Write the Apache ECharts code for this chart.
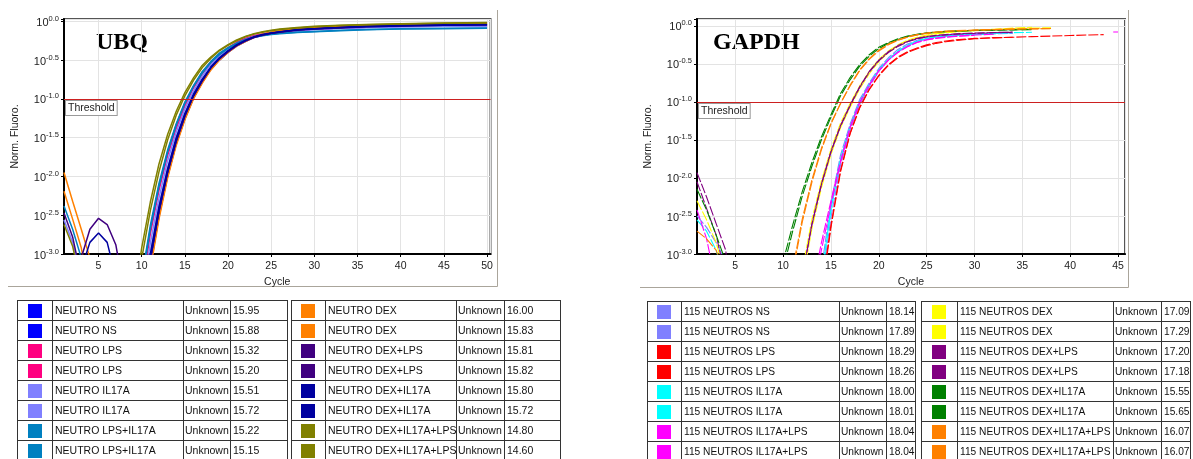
<!DOCTYPE html>
<html><head><meta charset="utf-8">
<script src="https://cdn.jsdelivr.net/npm/echarts@6/dist/echarts.min.js"></script>
<style>html,body{margin:0;padding:0;background:#fff}#c{width:1193px;height:459px}</style>
</head><body><div id="c"></div>
<script>
// ---------- UBQ data (log10 of normalized fluorescence) ----------
const ubqCycles = [1,2,3,4,5,6,7,8,9,10,11,12,13,14,15,16,17,18,19,20,21,22,23,24,25,26,28,30,33,36,40,45,50];
const ubqLabels = ['NEUTRO NS','NEUTRO NS','NEUTRO LPS','NEUTRO LPS','NEUTRO IL17A','NEUTRO IL17A','NEUTRO LPS+IL17A','NEUTRO LPS+IL17A',
                   'NEUTRO DEX','NEUTRO DEX','NEUTRO DEX+LPS','NEUTRO DEX+LPS','NEUTRO DEX+IL17A','NEUTRO DEX+IL17A','NEUTRO DEX+IL17A+LPS','NEUTRO DEX+IL17A+LPS'];
const ubqCt = ['15.95','15.88','15.32','15.20','15.51','15.72','15.22','15.15','16.00','15.83','15.81','15.82','15.80','15.72','14.80','14.60'];
const ubqColors = ['#0000FF','#0000FF','#FF0080','#FF0080','#8080FF','#8080FF','#0080C0','#0080C0','#FF8000','#FF8000','#400080','#400080','#0000A0','#0000A0','#808000','#808000'];
const ubqNS1 = [-4,-4,-4,-4,-4,-4,-4,-4,-4,-3.96,-3.17,-2.52,-2.00,-1.58,-1.26,-0.99,-0.79,-0.62,-0.50,-0.40,-0.32,-0.26,-0.21,-0.18,-0.16,-0.14,-0.12,-0.10,-0.085,-0.075,-0.065,-0.055,-0.05];
const ubqNS2 = [-4,-4,-4,-4,-4,-4,-4,-4,-4,-3.90,-3.12,-2.49,-1.97,-1.56,-1.24,-0.98,-0.78,-0.61,-0.49,-0.39,-0.31,-0.255,-0.21,-0.18,-0.16,-0.14,-0.115,-0.10,-0.085,-0.07,-0.06,-0.05,-0.045];
const ubqLPS1 = [-4,-4,-4,-4,-4,-4,-4,-4,-4,-3.46,-2.74,-2.18,-1.73,-1.38,-1.09,-0.86,-0.68,-0.54,-0.43,-0.35,-0.28,-0.225,-0.19,-0.165,-0.145,-0.135,-0.115,-0.10,-0.085,-0.075,-0.065,-0.06,-0.055];
const ubqLPS2 = [-4,-4,-4,-4,-4,-4,-4,-4,-4,-3.36,-2.67,-2.12,-1.68,-1.33,-1.05,-0.84,-0.66,-0.52,-0.42,-0.34,-0.27,-0.22,-0.186,-0.164,-0.144,-0.132,-0.11,-0.095,-0.08,-0.07,-0.06,-0.055,-0.05];
const ubqIL1 = [-2.56,-2.85,-3.3,-4,-4,-4,-4,-4,-4,-3.61,-2.86,-2.28,-1.80,-1.43,-1.13,-0.90,-0.71,-0.56,-0.45,-0.36,-0.29,-0.235,-0.195,-0.17,-0.15,-0.135,-0.12,-0.105,-0.09,-0.08,-0.07,-0.065,-0.06];
const ubqIL2 = [-4,-4,-4,-4,-4,-4,-4,-4,-4,-3.78,-3.0,-2.39,-1.90,-1.50,-1.19,-0.94,-0.75,-0.59,-0.47,-0.38,-0.30,-0.245,-0.20,-0.175,-0.155,-0.137,-0.12,-0.105,-0.09,-0.08,-0.07,-0.065,-0.06];
const ubqLPSIL1 = [-2.38,-2.68,-3.05,-4,-4,-4,-4,-4,-4,-3.38,-2.68,-2.13,-1.69,-1.34,-1.06,-0.84,-0.67,-0.53,-0.43,-0.35,-0.29,-0.24,-0.205,-0.185,-0.17,-0.16,-0.145,-0.135,-0.12,-0.11,-0.10,-0.095,-0.09];
const ubqLPSIL2 = [-4,-4,-4,-4,-4,-4,-4,-4,-4,-3.31,-2.63,-2.09,-1.66,-1.32,-1.04,-0.83,-0.65,-0.52,-0.41,-0.34,-0.28,-0.235,-0.20,-0.18,-0.165,-0.155,-0.14,-0.13,-0.115,-0.105,-0.095,-0.09,-0.085];
const ubqDEX1 = [-1.95,-2.32,-2.68,-3.05,-4,-4,-4,-4,-4,-4,-3.2,-2.55,-2.02,-1.60,-1.27,-1.00,-0.80,-0.63,-0.50,-0.40,-0.32,-0.26,-0.21,-0.17,-0.145,-0.125,-0.10,-0.08,-0.06,-0.05,-0.04,-0.03,-0.025];
const ubqDEX2 = [-2.19,-2.55,-2.92,-3.5,-4,-4,-4,-4,-4,-3.86,-3.08,-2.45,-1.95,-1.54,-1.23,-0.97,-0.77,-0.61,-0.48,-0.39,-0.31,-0.25,-0.20,-0.165,-0.14,-0.12,-0.095,-0.08,-0.065,-0.05,-0.04,-0.035,-0.03];
const ubqDEXLPS1 = [-4,-4,-3.05,-2.68,-2.54,-2.62,-2.88,-3.5,-4,-3.85,-3.07,-2.44,-1.94,-1.54,-1.22,-0.96,-0.77,-0.60,-0.48,-0.39,-0.31,-0.25,-0.205,-0.175,-0.155,-0.138,-0.115,-0.10,-0.085,-0.07,-0.06,-0.05,-0.045];
const ubqDEXLPS2 = [-2.47,-2.78,-3.3,-4,-4,-4,-4,-4,-4,-3.86,-3.07,-2.45,-1.95,-1.55,-1.22,-0.96,-0.77,-0.60,-0.48,-0.39,-0.31,-0.25,-0.205,-0.175,-0.155,-0.14,-0.11,-0.095,-0.08,-0.065,-0.055,-0.045,-0.04];
const ubqDEXIL1 = [-4,-4,-3.2,-2.85,-2.73,-2.85,-3.3,-4,-4,-3.84,-3.06,-2.44,-1.94,-1.53,-1.21,-0.96,-0.76,-0.60,-0.48,-0.38,-0.31,-0.25,-0.204,-0.174,-0.154,-0.136,-0.11,-0.095,-0.08,-0.07,-0.06,-0.05,-0.045];
const ubqDEXIL2 = [-4,-4,-4,-4,-4,-4,-4,-4,-4,-3.78,-3.0,-2.39,-1.90,-1.50,-1.19,-0.94,-0.75,-0.59,-0.47,-0.38,-0.30,-0.245,-0.20,-0.17,-0.15,-0.133,-0.11,-0.095,-0.08,-0.065,-0.055,-0.045,-0.04];
const ubqDEXILLPS1 = [-2.62,-2.9,-3.4,-4,-4,-4,-4,-4,-3.84,-3.06,-2.44,-1.94,-1.53,-1.21,-0.96,-0.76,-0.60,-0.48,-0.38,-0.31,-0.25,-0.20,-0.165,-0.14,-0.12,-0.105,-0.085,-0.07,-0.055,-0.045,-0.035,-0.025,-0.02];
const ubqDEXILLPS2 = [-4,-4,-4,-4,-4,-4,-4,-4,-3.68,-2.92,-2.33,-1.84,-1.46,-1.16,-0.92,-0.73,-0.57,-0.46,-0.37,-0.30,-0.24,-0.195,-0.16,-0.135,-0.115,-0.10,-0.08,-0.065,-0.05,-0.04,-0.03,-0.02,-0.015];
const ubqCurves = [ubqNS1,ubqNS2,ubqLPS1,ubqLPS2,ubqIL1,ubqIL2,ubqLPSIL1,ubqLPSIL2,ubqDEX1,ubqDEX2,ubqDEXLPS1,ubqDEXLPS2,ubqDEXIL1,ubqDEXIL2,ubqDEXILLPS1,ubqDEXILLPS2];

// ---------- GAPDH data ----------
const gapdhCycles = [1,2,3,4,5,6,7,8,9,10,11,12,13,14,15,16,17,18,19,20,21,22,23,24,25,26,27,28,30,32,34,36,38,40,42,43.5,44.5,45];
const gapdhLabels = ['115 NEUTROS NS','115 NEUTROS NS','115 NEUTROS LPS','115 NEUTROS LPS','115 NEUTROS IL17A','115 NEUTROS IL17A','115 NEUTROS IL17A+LPS','115 NEUTROS IL17A+LPS',
                     '115 NEUTROS DEX','115 NEUTROS DEX','115 NEUTROS DEX+LPS','115 NEUTROS DEX+LPS','115 NEUTROS DEX+IL17A','115 NEUTROS DEX+IL17A','115 NEUTROS DEX+IL17A+LPS','115 NEUTROS DEX+IL17A+LPS'];
const gapdhCt = ['18.14','17.89','18.29','18.26','18.00','18.01','18.04','18.04','17.09','17.29','17.20','17.18','15.55','15.65','16.07','16.07'];
const gapdhColors = ['#8080FF','#8080FF','#FF0000','#FF0000','#00FFFF','#00FFFF','#FF00FF','#FF00FF','#FFFF00','#FFFF00','#800080','#800080','#008000','#008000','#FF8000','#FF8000'];
const gNS1 = [-2.5,-2.65,-2.85,-3.1,-4,-4,-4,-4,-4,-4,-4,-4,-4,-3.42,-2.52,-1.83,-1.37,-1.04,-0.80,-0.60,-0.45,-0.34,-0.26,-0.205,-0.17,-0.15,-0.135,-0.125,-0.115,-0.105,-0.10,null,null,null,null,null,null,null];
const gNS2 = [-4,-4,-4,-4,-4,-4,-4,-4,-4,-4,-4,-4,-4,-3.2,-2.33,-1.70,-1.29,-0.97,-0.75,-0.56,-0.42,-0.31,-0.24,-0.19,-0.16,-0.14,-0.125,-0.115,-0.105,-0.10,-0.095,null,null,null,null,null,null,null];
const gLPS1 = [-4,-4,-4,-4,-4,-4,-4,-4,-4,-4,-4,-4,-4,-3.55,-2.65,-1.92,-1.42,-1.08,-0.84,-0.66,-0.52,-0.42,-0.35,-0.30,-0.26,-0.23,-0.21,-0.195,-0.17,-0.158,-0.15,-0.142,-0.135,-0.127,-0.12,-0.115,null,null];
const gLPS2 = [-4,-4,-4,-4,-4,-4,-4,-4,-4,-4,-4,-4,-4,-3.5,-2.62,-1.9,-1.41,-1.07,-0.83,-0.65,-0.51,-0.41,-0.34,-0.29,-0.25,-0.22,-0.20,-0.185,-0.165,-0.155,-0.15,null,null,null,null,null,null,null];
const gIL1 = [-2.55,-2.7,-2.95,-3.4,-4,-4,-4,-4,-4,-4,-4,-4,-4,-3.3,-2.4,-1.75,-1.32,-1.0,-0.77,-0.58,-0.44,-0.33,-0.255,-0.20,-0.165,-0.145,-0.13,-0.12,-0.11,-0.10,-0.09,-0.085,null,null,null,null,null,null];
const gIL2 = [-4,-4,-4,-4,-4,-4,-4,-4,-4,-4,-4,-4,-4,-3.32,-2.42,-1.76,-1.33,-1.0,-0.77,-0.58,-0.44,-0.335,-0.26,-0.205,-0.17,-0.15,-0.135,-0.125,-0.113,-0.105,null,null,null,null,null,null,null,null];
const gILLPS1 = [-2.42,-2.8,-3.4,-4,-4,-4,-4,-4,-4,-4,-4,-4,-3.5,-2.85,-2.3,-1.78,-1.33,-1.01,-0.78,-0.59,-0.45,-0.345,-0.27,-0.215,-0.18,-0.16,-0.145,-0.135,-0.12,-0.11,null,null,null,null,null,null,null,null];
const gILLPS2 = [-4,-4,-4,-4,-4,-4,-4,-4,-4,-4,-4,-4,-3.6,-2.95,-2.35,-1.8,-1.34,-1.01,-0.78,-0.59,-0.45,-0.35,-0.275,-0.22,-0.185,-0.165,-0.15,-0.14,-0.125,null,null,null,null,null,null,null,-0.08,-0.08];
const gDEX1 = [-2.3,-2.55,-2.85,-3.3,-4,-4,-4,-4,-4,-4,-4,-3.22,-2.55,-2.04,-1.62,-1.28,-1.02,-0.79,-0.60,-0.44,-0.33,-0.25,-0.19,-0.15,-0.12,-0.10,-0.085,-0.075,-0.06,-0.045,-0.03,-0.018,null,null,null,null,null,null];
const gDEX2 = [-4,-4,-4,-4,-4,-4,-4,-4,-4,-4,-4,-3.38,-2.67,-2.13,-1.69,-1.34,-1.07,-0.83,-0.63,-0.47,-0.35,-0.26,-0.20,-0.16,-0.13,-0.105,-0.09,-0.08,-0.065,-0.05,-0.04,-0.03,-0.025,null,null,null,null,null];
const gDEXLPS1 = [-1.93,-2.25,-2.6,-2.95,-4,-4,-4,-4,-4,-4,-4,-3.31,-2.62,-2.09,-1.66,-1.32,-1.05,-0.81,-0.61,-0.46,-0.35,-0.27,-0.21,-0.17,-0.145,-0.13,-0.12,-0.11,-0.10,-0.09,-0.085,null,null,null,null,null,null,null];
const gDEXLPS2 = [-2.05,-2.4,-2.75,-3.3,-4,-4,-4,-4,-4,-4,-4,-3.3,-2.61,-2.08,-1.65,-1.31,-1.04,-0.80,-0.60,-0.45,-0.34,-0.26,-0.205,-0.165,-0.14,-0.125,-0.115,-0.105,-0.095,-0.088,-0.082,null,null,null,null,null,null,null];
const gDEXIL1 = [-2.15,-2.42,-2.75,-3.1,-4,-4,-4,-4,-4,-3.1,-2.62,-2.18,-1.80,-1.46,-1.17,-0.89,-0.68,-0.51,-0.38,-0.28,-0.22,-0.17,-0.135,-0.11,-0.093,-0.08,-0.073,-0.067,-0.06,-0.055,-0.05,-0.048,null,null,null,null,null,null];
const gDEXIL2 = [-4,-4,-4,-4,-4,-4,-4,-4,-4,-3.2,-2.7,-2.24,-1.85,-1.5,-1.2,-0.92,-0.71,-0.53,-0.40,-0.30,-0.23,-0.18,-0.14,-0.115,-0.097,-0.085,-0.076,-0.07,-0.062,-0.057,-0.053,-0.05,null,null,null,null,null,null];
const gDEXILLPS1 = [-2.7,-2.8,-2.95,-3.3,-4,-4,-4,-4,-4,-4,-3.2,-2.54,-2.03,-1.61,-1.28,-1.02,-0.79,-0.59,-0.44,-0.33,-0.25,-0.19,-0.15,-0.12,-0.10,-0.085,-0.075,-0.068,-0.058,-0.05,-0.043,-0.038,-0.035,null,null,null,null,null];
const gDEXILLPS2 = [-4,-4,-4,-4,-4,-4,-4,-4,-4,-4,-3.25,-2.58,-2.06,-1.63,-1.29,-1.02,-0.78,-0.58,-0.43,-0.32,-0.24,-0.185,-0.145,-0.115,-0.095,-0.08,-0.07,-0.063,-0.055,-0.048,-0.043,-0.04,-0.038,null,null,null,null,null];
const gapdhCurves = [gNS1,gNS2,gLPS1,gLPS2,gIL1,gIL2,gILLPS1,gILLPS2,gDEX1,gDEX2,gDEXLPS1,gDEXLPS2,gDEXIL1,gDEXIL2,gDEXILLPS1,gDEXILLPS2];

const thresholdLog = -1.0;        // 10^-1.0
const sampleType = 'Unknown';
const yAxisTitle = 'Norm. Fluoro.';
const xAxisTitle = 'Cycle';
const thresholdText = 'Threshold';

// ---------- rendering ----------
const F = '"Liberation Sans", Arial, sans-serif';
const chart = echarts.init(document.getElementById('c'), null, {renderer: 'canvas'});

function yFmt(v) {
  const r = Math.round(v * 2) / 2;
  if (Math.abs(v - r) > 1e-6) return '';
  return '{b|10}{s|' + r.toFixed(1) + '}';
}
function xAxisCfg(gi, max) {
  return {
    gridIndex: gi, type: 'value', min: 1, max: max, splitNumber: 10,
    name: xAxisTitle, nameLocation: 'middle', nameGap: 20,
    nameTextStyle: {fontFamily: F, fontSize: 10.5, color: '#222'},
    axisLine: {show: true, onZero: false, lineStyle: {color: '#000', width: 2}},
    axisTick: {show: true, length: 3, lineStyle: {color: '#000'}},
    axisLabel: {margin: 7, fontSize: 10.5, color: '#222', fontFamily: F, showMinLabel: false, showMaxLabel: false},
    splitLine: {show: true, lineStyle: {color: '#e3e3e3', width: 1}}
  };
}
function yAxisCfg(gi, max) {
  return {
    gridIndex: gi, type: 'value', min: -3, max: max, interval: 0.5,
    name: yAxisTitle, nameLocation: 'middle', nameGap: 43, nameRotate: 90,
    nameTextStyle: {fontFamily: F, fontSize: 10.5, color: '#222'},
    axisLine: {show: true, onZero: false, lineStyle: {color: '#000', width: 2}},
    axisTick: {show: true, length: 3, lineStyle: {color: '#000'}},
    axisLabel: {margin: 5, formatter: yFmt, rich: {
      b: {fontSize: 11, fontFamily: F, color: '#222', padding: [3, 0, 0, 0]},
      s: {fontSize: 7.5, fontFamily: F, color: '#222', padding: [0, 0, 5, 0]}
    }},
    splitLine: {show: true, lineStyle: {color: '#e3e3e3', width: 1}}
  };
}
function curveSeries(gi, cycles, vals, color, width, dash) {
  return {
    type: 'line', xAxisIndex: gi, yAxisIndex: gi, clip: true, silent: true,
    symbol: 'none', showSymbol: false, connectNulls: false, z: 3,
    data: cycles.map((c, i) => [c, vals[i]]),
    lineStyle: {color: color, width: width, type: dash}
  };
}
function thresholdSeries(gi) {
  return {
    type: 'line', xAxisIndex: gi, yAxisIndex: gi, data: [], z: 5, silent: true,
    markLine: {
      silent: true, symbol: 'none', animation: false,
      lineStyle: {color: '#CC2020', width: 1, type: 'solid'},
      data: [{yAxis: thresholdLog}],
      label: {show: true, position: 'insideStartBottom', formatter: thresholdText, distance: [2, 2],
        fontFamily: F, fontSize: 10.5, color: '#222', backgroundColor: '#fff',
        borderColor: '#9a9a9a', borderWidth: 1, padding: [2, 2, 1, 2]}
    }
  };
}
function tableEls(cols, top, names, cts, colors, fs) {
  const els = [], H = 20, n = names.length;
  const ln = (x1, y1, x2, y2) => ({type: 'line', silent: true, shape: {x1, y1, x2, y2}, style: {stroke: '#333', lineWidth: 1}});
  for (let r = 0; r <= n; r++) els.push(ln(cols[0], top + r * H + 0.5, cols[4], top + r * H + 0.5));
  cols.forEach(x => els.push(ln(x + 0.5, top, x + 0.5, top + n * H)));
  names.forEach((nm, r) => {
    const cy = top + r * H + H / 2 + 1;
    els.push({type: 'rect', silent: true, shape: {x: Math.round((cols[0] + cols[1]) / 2) - 7, y: cy - 7, width: 14, height: 14}, style: {fill: colors[r]}});
    const t = (x, s) => ({type: 'text', silent: true, x: x, y: cy, style: {text: s, fontFamily: F, fontSize: fs, fill: '#111', verticalAlign: 'middle', align: 'left'}});
    els.push(t(cols[1] + 3, nm));
    els.push(t(cols[2] + 2, sampleType));
    els.push(t(cols[3] + 3, cts[r]));
  });
  return els;
}

const series = [];
ubqCurves.forEach((v, i) => series.push(curveSeries(0, ubqCycles, v, ubqColors[i], 1.5, 'solid')));
series.push(thresholdSeries(0));
gapdhCurves.forEach((v, i) => series.push(curveSeries(1, gapdhCycles, v, gapdhColors[i], 1.1, [10, 2])));
series.push(thresholdSeries(1));

const gl = (x1, y1, x2, y2, c) => ({type: 'line', silent: true, shape: {x1, y1, x2, y2}, style: {stroke: c || '#aaa59b', lineWidth: 1}});
const graphics = [
  gl(8, 286.5, 497.5, 286.5), gl(497.5, 10, 497.5, 286.5),
  gl(640, 287.5, 1128.5, 287.5), gl(1128.5, 10, 1128.5, 287.5),
  {type: 'text', silent: true, x: 96, y: 31, style: {text: 'UBQ', fontFamily: '"Liberation Serif", "Times New Roman", serif', fontWeight: 'bold', fontSize: 24, fill: '#000'}},
  {type: 'text', silent: true, x: 713, y: 31, style: {text: 'GAPDH', fontFamily: '"Liberation Serif", "Times New Roman", serif', fontWeight: 'bold', fontSize: 24, fill: '#000'}}
].concat(
  tableEls([17, 52, 183, 230, 287], 300, ubqLabels.slice(0, 8), ubqCt.slice(0, 8), ubqColors.slice(0, 8), 10.5),
  tableEls([291, 325, 456, 504, 560], 300, ubqLabels.slice(8), ubqCt.slice(8), ubqColors.slice(8), 10.5),
  tableEls([647, 681, 839, 886, 915], 301, gapdhLabels.slice(0, 8), gapdhCt.slice(0, 8), gapdhColors.slice(0, 8), 10.2),
  tableEls([921, 957, 1113, 1161, 1190], 301, gapdhLabels.slice(8), gapdhCt.slice(8), gapdhColors.slice(8), 10.2)
);

chart.setOption({
  animation: false,
  backgroundColor: '#fff',
  grid: [
    {left: 64, top: 19, width: 426.5, height: 235, show: true, borderColor: '#555', borderWidth: 2, backgroundColor: '#fff'},
    {left: 697, top: 19, width: 428, height: 235, show: true, borderColor: '#555', borderWidth: 2, backgroundColor: '#fff'}
  ],
  xAxis: [xAxisCfg(0, 50.4), xAxisCfg(1, 45.73)],
  yAxis: [yAxisCfg(0, 0.03), yAxisCfg(1, 0.09)],
  series: series,
  graphic: {elements: graphics}
});
</script>
</body></html>
